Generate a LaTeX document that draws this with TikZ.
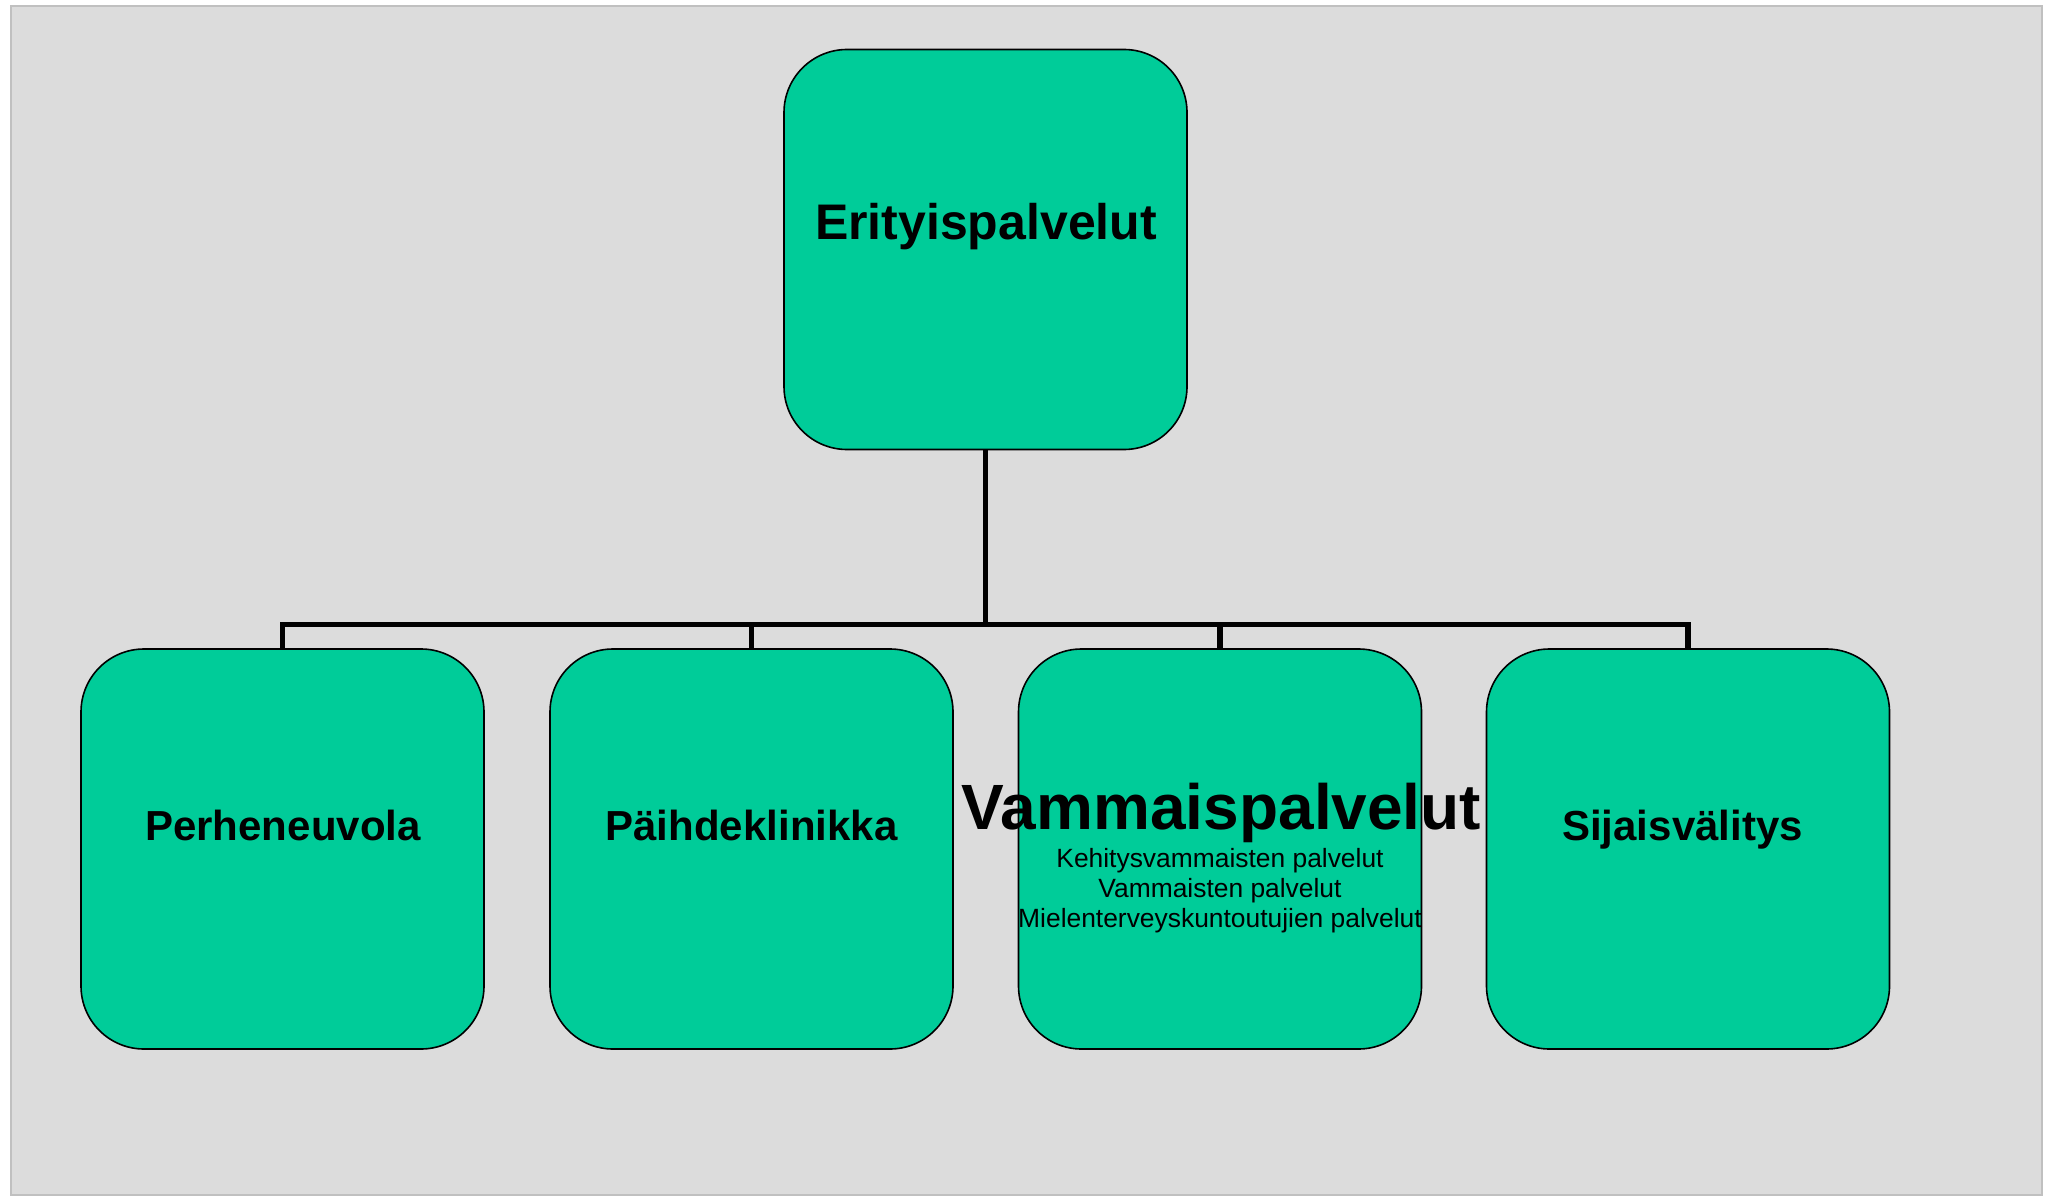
\documentclass[tikz,border=0pt]{standalone}
\usepackage{fontspec}
\setmainfont{Liberation Sans}
\definecolor{boxgreen}{RGB}{0,204,153}
\definecolor{bggray}{RGB}{220,220,220}
\definecolor{bgborder}{RGB}{192,192,192}
\begin{document}
\begin{tikzpicture}[x=1pt,y=-1pt,
  orgbox/.style={draw=black, line width=1.6pt, fill=boxgreen, rounded corners=63pt,
    minimum width=403pt, minimum height=400pt, inner sep=0pt},
  conn/.style={draw=black, line width=5.5pt, line join=miter},
  bigtitle/.style={font=\fontsize{50}{60}\selectfont\bfseries, anchor=base, inner sep=0pt},
  childtitle/.style={font=\fontsize{42}{50}\selectfont\bfseries, anchor=base, inner sep=0pt},
  hugetitle/.style={font=\fontsize{64}{76}\selectfont\bfseries, anchor=base, inner sep=0pt},
  sublines/.style={font=\fontsize{26.4}{29.7}\selectfont, align=center, anchor=base, inner sep=0pt}
]
\useasboundingbox (0,0) rectangle (2056,1196);
\fill[white] (0,0) rectangle (2056,1196);
\draw[fill=bggray, draw=bgborder, line width=2pt] (11,6) rectangle (2042,1195);

\node[orgbox] (top) at (985.5,249.5) {};
\node[orgbox] (c1) at (282.5,849) {};
\node[orgbox] (c2) at (751.5,849) {};
\node[orgbox] (c3) at (1220,849) {};
\node[orgbox] (c4) at (1688,849) {};

\coordinate (bar) at (0,624.5);
\draw[conn] (top.south) -- (top.south |- bar);
\draw[conn] (c1.north) -- (c1.north |- bar) -- (c4.north |- bar) -- (c4.north);
\draw[conn] (c2.north) -- (c2.north |- bar);
\draw[conn] (c3.north) -- (c3.north |- bar);

\node[bigtitle] (ttop) at (986,239) {Erityispalvelut};
\node[childtitle] (t1) at (283,840) {Perheneuvola};
\node[childtitle] (t2) at (751.5,840) {Päihdeklinikka};
\node[hugetitle] (t3) at (1221.5,829) {Vammaispalvelut};
\node[sublines] (s3) at (1220,927) {Kehitysvammaisten palvelut\\Vammaisten palvelut\\Mielenterveyskuntoutujien palvelut};
\node[childtitle] (t4) at (1682.5,840) {Sijaisvälitys};
\end{tikzpicture}
\end{document}
